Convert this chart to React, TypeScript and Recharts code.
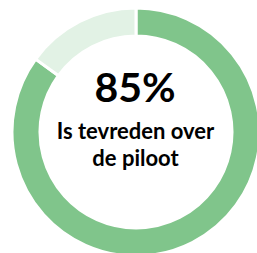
import React from "react";
import { PieChart, Pie, Cell } from "recharts";

const segments = ["Tevreden", "Overig"];
const values = [85, 15];
const colors = ["#80C58B", "#E2F2E5"];
const headline = "85%";
const captionLines = ["Is tevreden over", "de piloot"];

const data = segments.map((name, i) => ({ name, value: values[i] }));

const font = "Lato, 'Open Sans', sans-serif";
const CX = 136;
const CY = 132;

export default function App() {
  return (
    <div style={{ position: "fixed", left: 0, top: 0, width: 257, height: 253, background: "#fff" }}>
      <PieChart width={257} height={253} margin={{ top: 0, right: 0, bottom: 0, left: 0 }}>
        <Pie
          data={data}
          dataKey="value"
          nameKey="name"
          cx={CX}
          cy={CY}
          innerRadius={96}
          outerRadius={124}
          startAngle={90}
          endAngle={-270}
          stroke="#fff"
          strokeWidth={3}
          isAnimationActive={false}
        >
          {data.map((d, i) => (
            <Cell key={d.name} fill={colors[i]} />
          ))}
        </Pie>
      </PieChart>
      <svg
        width={257}
        height={253}
        style={{ position: "absolute", left: 0, top: 0, pointerEvents: "none" }}
      >
        <text x={CX - 1} y={102} textAnchor="middle" fontFamily={font} fontWeight={700} fontSize={41} fill="#000">
          {headline}
        </text>
        {captionLines.map((line, i) => (
          <text
            key={line}
            x={CX - 0.5}
            y={139 + i * 27}
            textAnchor="middle"
            fontFamily={font}
            fontWeight={700}
            fontSize={22}
            fill="#000"
          >
            {line}
          </text>
        ))}
      </svg>
    </div>
  );
}
